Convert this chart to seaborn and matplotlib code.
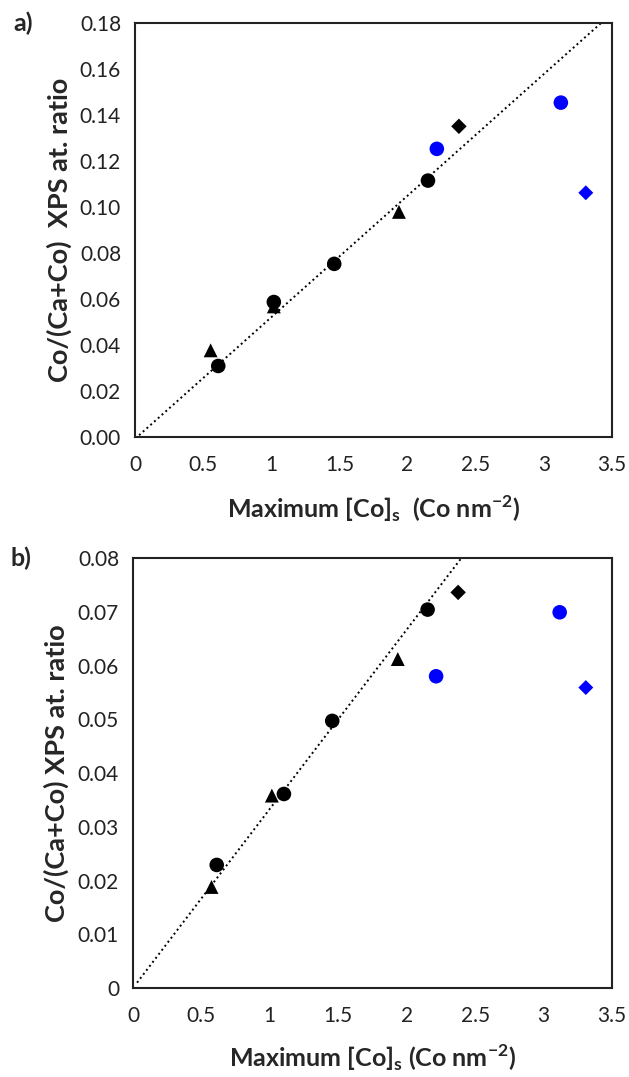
import matplotlib
matplotlib.use("Agg")
import matplotlib.pyplot as plt
import seaborn as sns
import pandas as pd
import numpy as np
from matplotlib.ticker import FixedLocator, FuncFormatter

sns.set_theme(style="white")
plt.rcParams['font.family'] = ['Lato', 'DejaVu Sans']
plt.rcParams['mathtext.fontset'] = 'custom'
plt.rcParams['mathtext.rm'] = 'Lato:bold'
plt.rcParams['mathtext.bf'] = 'Lato:bold'

# ---- data (panel a) ----
a_series = ["triangle", "triangle", "triangle", "circle", "circle", "circle", "circle",
            "diamond", "blue circle", "blue circle", "blue diamond"]
a_x = [0.555, 1.019, 1.937, 0.611, 1.019, 1.462, 2.150, 2.377, 2.215, 3.125, 3.308]
a_y = [0.0377, 0.0568, 0.0979, 0.0309, 0.0587, 0.0753, 0.1115, 0.1351, 0.1253, 0.1454, 0.1062]
a_line_x = [0.03, 3.42]
a_line_y = [0.0008, 0.1800]

# ---- data (panel b) ----
b_series = ["triangle", "triangle", "triangle", "circle", "circle", "circle", "circle",
            "diamond", "blue circle", "blue circle", "blue diamond"]
b_x = [0.574, 1.015, 1.935, 0.612, 1.103, 1.456, 2.153, 2.376, 2.215, 3.118, 3.309]
b_y = [0.0188, 0.0358, 0.0612, 0.0229, 0.0361, 0.0497, 0.0704, 0.0736, 0.0580, 0.0699, 0.0559]
b_line_x = [0.03, 2.40]
b_line_y = [0.0010, 0.0800]

x_ticks = [0, 0.5, 1, 1.5, 2, 2.5, 3, 3.5]
a_yticks = [0, 0.02, 0.04, 0.06, 0.08, 0.10, 0.12, 0.14, 0.16, 0.18]
b_yticks = [0, 0.01, 0.02, 0.03, 0.04, 0.05, 0.06, 0.07, 0.08]

markers = {"circle": "o", "triangle": "^", "diamond": "D",
           "blue circle": "o", "blue diamond": "D"}
palette = {"circle": "black", "triangle": "black", "diamond": "black",
           "blue circle": "#0000FF", "blue diamond": "#0000FF"}
sizes = {"circle": 110, "triangle": 100, "diamond": 62,
         "blue circle": 110, "blue diamond": 58}

fig = plt.figure(figsize=(6.29, 10.77), dpi=100)
ax_a = fig.add_axes([0.2146, 0.5942, 0.7583, 0.3844])
ax_b = fig.add_axes([0.2114, 0.0826, 0.7615, 0.3993])


def draw(ax, series, xs, ys, lx, ly, yticks, ymax, yfmt, ylabel, xlabel, tag, xlpad):
    df = pd.DataFrame({"x": xs, "y": ys, "s": series})
    ax.plot(lx, ly, color="black", lw=1.4, linestyle=(0, (1, 1.6)), zorder=1)
    sns.scatterplot(data=df, x="x", y="y", hue="s", style="s", size="s",
                    markers=markers, palette=palette, sizes=sizes,
                    edgecolor="none", linewidth=0, legend=False, ax=ax, zorder=3)
    ax.set_xlim(0, 3.5)
    ax.set_ylim(0, ymax)
    ax.xaxis.set_major_locator(FixedLocator(x_ticks))
    ax.yaxis.set_major_locator(FixedLocator(yticks))
    ax.xaxis.set_major_formatter(FuncFormatter(lambda v, p: f"{v:g}"))
    ax.yaxis.set_major_formatter(FuncFormatter(yfmt))
    ax.tick_params(direction="in", length=5, width=1.2, labelsize=15,
                   colors="#222222", pad=10)
    ax.tick_params(axis="x", pad=13)
    for sp in ax.spines.values():
        sp.set_visible(True)
        sp.set_color("#222222")
        sp.set_linewidth(1.5)
    ax.set_xlabel(xlabel, fontsize=18, fontweight="bold", labelpad=xlpad)
    ax.set_ylabel(ylabel, fontsize=19.5, fontweight="bold", labelpad=6)
    ax.text(-0.255, 1.0, tag, transform=ax.transAxes, fontsize=18,
            fontweight="bold", ha="left", va="center")


draw(ax_a, a_series, a_x, a_y, a_line_x, a_line_y, a_yticks, 0.18,
     lambda v, p: f"{v:.2f}",
     "Co/(Ca+Co)  XPS at. ratio",
     r"Maximum [Co]$_\mathregular{s}$  (Co nm$^\mathregular{-2}$)", "a)", 13)
draw(ax_b, b_series, b_x, b_y, b_line_x, b_line_y, b_yticks, 0.08,
     lambda v, p: "0" if v == 0 else f"{v:.2f}",
     "Co/(Ca+Co) XPS at. ratio",
     r"Maximum [Co]$_\mathregular{s}$ (Co nm$^\mathregular{-2}$)", "b)", 12)

fig.savefig("out.png", dpi=100)
